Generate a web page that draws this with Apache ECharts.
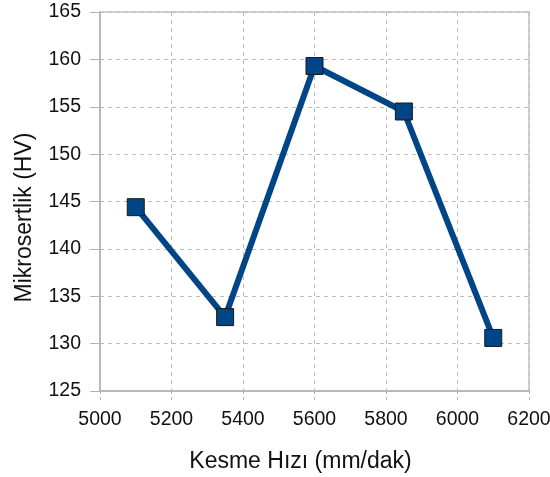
<!DOCTYPE html>
<html>
<head>
<meta charset="utf-8">
<script src="https://cdn.jsdelivr.net/npm/echarts@6/dist/echarts.min.js"></script>
<style>html,body{margin:0;padding:0;background:#fff;}#c{width:550px;height:477px;}</style>
</head>
<body>
<div id="c"></div>
<script>
var speeds = [5100, 5350, 5600, 5850, 6100];
var hardness = [144.4, 132.8, 159.3, 154.5, 130.6];
var xName = 'Kesme Hızı (mm/dak)';
var yName = 'Mikrosertlik (HV)';

var chart = echarts.init(document.getElementById('c'), null, {renderer: 'canvas'});
var font = '"Liberation Sans", Arial, sans-serif';
chart.setOption({
  animation: false,
  backgroundColor: '#fff',
  grid: {left: 100, right: 21, top: 12, bottom: 86, show: true, borderColor: '#c0c0c0', borderWidth: 1.5,
         containLabel: false, outerBoundsMode: 'none'},
  xAxis: {
    type: 'value', min: 5000, max: 6200, interval: 200,
    name: xName, nameLocation: 'middle', nameGap: 59,
    nameTextStyle: {fontFamily: font, fontSize: 23, color: '#111', padding: [0, 28, 0, 0]},
    axisLine: {show: true, lineStyle: {color: '#b3b3b3', width: 1.5}},
    axisTick: {show: true, length: 9, lineStyle: {color: '#b3b3b3', type: [3, 3]}},
    axisLabel: {fontFamily: font, fontSize: 19.5, color: '#111', margin: 19,
                formatter: function (v) { return String(v); }},
    splitLine: {show: true, lineStyle: {color: '#bdbdbd', type: [4, 4], width: 1}}
  },
  yAxis: {
    type: 'value', min: 125, max: 165, interval: 5,
    name: yName, nameLocation: 'middle', nameGap: 64,
    nameTextStyle: {fontFamily: font, fontSize: 23, color: '#111', padding: [0, 32, 0, 0]},
    axisLine: {show: true, lineStyle: {color: '#b3b3b3', width: 1.5}},
    axisTick: {show: true, length: 10, lineStyle: {color: '#b3b3b3'}},
    axisLabel: {fontFamily: font, fontSize: 19.5, color: '#111', margin: 19,
                formatter: function (v) { return String(v); }},
    splitLine: {show: true, lineStyle: {color: '#bdbdbd', type: [4, 4], width: 1}}
  },
  series: [{
    type: 'line',
    data: speeds.map(function (s, i) { return [s, hardness[i]]; }),
    symbol: 'rect', symbolSize: 17,
    lineStyle: {color: '#004586', width: 6},
    itemStyle: {color: '#004586', borderColor: '#1a1a1a', borderWidth: 1},
    z: 3
  }]
});
</script>
</body>
</html>
